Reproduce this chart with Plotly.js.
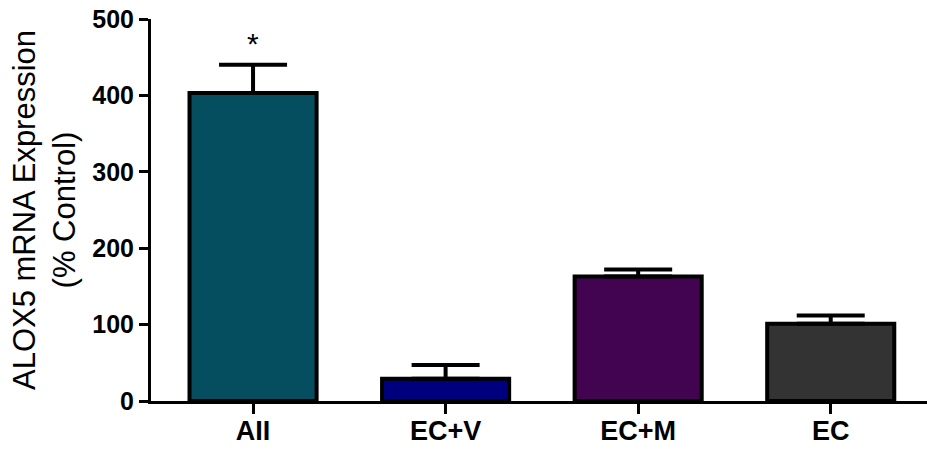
<!DOCTYPE html>
<html>
<head>
<meta charset="utf-8">
<script src="https://cdn.plot.ly/plotly-3.0.1.min.js"></script>
<style>html,body{margin:0;padding:0;background:#fff;}#chart{width:927px;height:452px;}</style>
</head>
<body>
<div id="chart"></div>
<script>
const categories = ["AII", "EC+V", "EC+M", "EC"];
const values = [403, 29, 163, 101];
const errorsUp = [37, 18, 9, 11];
const barColors = ["#054E5F", "#00007F", "#420450", "#333333"];
const yTicks = [0, 100, 200, 300, 400, 500];
const significance = ["*", "", "", ""];

const trace = {
  type: "bar",
  x: categories,
  y: values,
  width: 0.66,
  marker: { color: barColors, line: { color: "#000", width: 4 } },
  error_y: {
    type: "data",
    symmetric: false,
    array: errorsUp,
    arrayminus: errorsUp.map(() => 0),
    color: "#000",
    thickness: 4,
    width: 34
  },
  hoverinfo: "none"
};

const annotations = categories.map((c, i) => ({
  x: c, y: values[i] + errorsUp[i] + 28, text: significance[i],
  showarrow: false, font: { family: "Liberation Sans, Arial", size: 30, color: "#000" }
})).filter(a => a.text);

const layout = {
  width: 927, height: 452,
  margin: { l: 151, r: 0, t: 19, b: 51 },
  paper_bgcolor: "#fff", plot_bgcolor: "#fff",
  showlegend: false,
  xaxis: {
    type: "category",
    range: [-0.53, 3.5],
    showline: true, linecolor: "#000", linewidth: 3,
    ticks: "outside", ticklen: 10, tickwidth: 3, tickcolor: "#000",
    ticklabelstandoff: -6,
    tickfont: { family: "Liberation Sans, Arial", size: 27, color: "#000", weight: "bold" },
    showgrid: false, zeroline: false
  },
  yaxis: {
    range: [0, 500],
    tickvals: yTicks,
    showline: true, linecolor: "#000", linewidth: 3,
    ticks: "outside", ticklen: 9, tickwidth: 3, tickcolor: "#000",
    tickfont: { family: "Liberation Sans, Arial", size: 25, color: "#000", weight: "bold" },
    showgrid: false, zeroline: false,
    title: { text: "ALOX5 mRNA Expression<br>(% Control)", font: { family: "Liberation Sans, Arial", size: 31, color: "#000" }, standoff: 8 }
  },
  annotations: annotations
};

Plotly.newPlot("chart", [trace], layout, { displayModeBar: false, staticPlot: true });
</script>
</body>
</html>
